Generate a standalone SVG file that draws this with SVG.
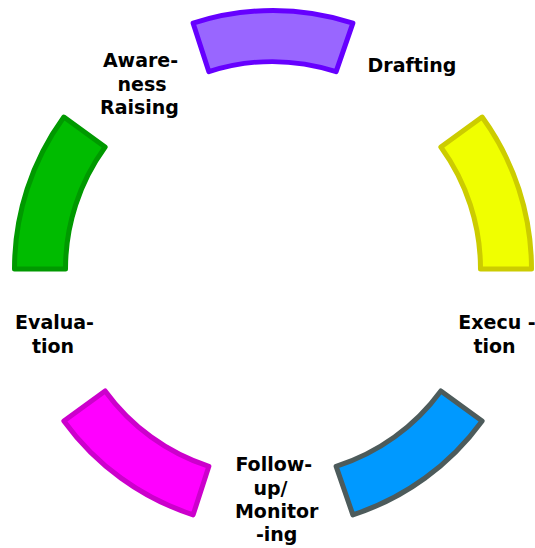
<svg xmlns="http://www.w3.org/2000/svg" width="535" height="548" viewBox="0 0 535 548">
<style>
.seg{stroke-width:5;stroke-linejoin:round}
.lbl{font-family:"DejaVu Sans","Liberation Sans",sans-serif;font-weight:bold;font-size:19px;fill:#000;text-anchor:middle}
</style>
<rect width="535" height="548" fill="#fff"/>
<g id="connectors"/>
<g id="drafting-seg"><path class="seg" fill="#9966ff" stroke="#6600ff" d="M 193.12 23.15 A 258.5 258.5 0 0 1 352.88 23.15 L 336.12 71.65 A 207.5 207.5 0 0 0 208.88 71.65 Z"/></g>
<g id="execution-seg"><path class="seg" fill="#f0ff00" stroke="#cccc00" d="M 482.13 117.06 A 258.5 258.5 0 0 1 531.5 269 L 480.5 269 A 207.5 207.5 0 0 0 440.87 147.03 Z"/></g>
<g id="followup-seg"><path class="seg" fill="#0099ff" stroke="#4d5b5b" d="M 482.13 420.94 A 258.5 258.5 0 0 1 352.88 514.85 L 336.12 466.35 A 207.5 207.5 0 0 0 440.87 390.97 Z"/></g>
<g id="evaluation-seg"><path class="seg" fill="#ff00ff" stroke="#cc00cc" d="M 193.12 514.85 A 258.5 258.5 0 0 1 63.87 420.94 L 105.13 390.97 A 207.5 207.5 0 0 0 208.88 466.35 Z"/></g>
<g id="awareness-seg"><path class="seg" fill="#00bb00" stroke="#009900" d="M 14.5 269 A 258.5 258.5 0 0 1 63.87 117.06 L 105.13 147.03 A 207.5 207.5 0 0 0 65.5 269 Z"/></g>
<g id="drafting-label"><text class="lbl" x="412" y="72">Drafting</text></g>
<g id="awareness-label"><text class="lbl"><tspan x="140.5" y="67">Aware-</tspan><tspan x="142" y="90.5">ness</tspan><tspan x="139.5" y="114">Raising</tspan></text></g>
<g id="evaluation-label"><text class="lbl"><tspan x="54.5" y="329">Evalua-</tspan><tspan x="53" y="353">tion</tspan></text></g>
<g id="execution-label"><text class="lbl"><tspan x="497" y="329">Execu -</tspan><tspan x="494.5" y="353">tion</tspan></text></g>
<g id="followup-label"><text class="lbl"><tspan x="273.8" y="471">Follow-</tspan><tspan x="270.5" y="494.5">up/</tspan><tspan x="276.7" y="518">Monitor</tspan><tspan x="276.7" y="541">-ing</tspan></text></g>
</svg>
